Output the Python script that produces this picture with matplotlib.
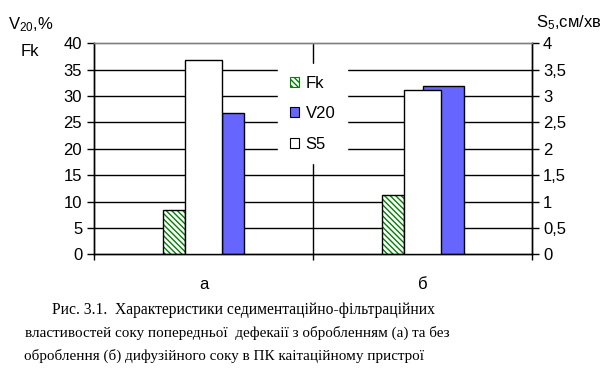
import matplotlib
matplotlib.use("Agg")
import matplotlib.pyplot as plt
from matplotlib.patches import Patch
import numpy as np

# ---- data ----
categories = ["а", "б"]
series_names = ["Fk", "V20", "S5"]
fk_values = [8.4, 11.2]
v20_values = [26.7, 32.0]
s5_values = [3.68, 3.11]
left_ticks = [0, 5, 10, 15, 20, 25, 30, 35, 40]
right_ticks = [0, 0.5, 1, 1.5, 2, 2.5, 3, 3.5, 4]
right_tick_labels = ["0", "0,5", "1", "1,5", "2", "2,5", "3", "3,5", "4"]
caption_lines = [
    "Рис. 3.1.  Характеристики седиментаційно-фільтраційних",
    "властивостей соку попередньої  дефекаії з обробленням (а) та без",
    "оброблення (б) дифузійного соку в ПК каітаційному пристрої",
]

# ---- style / layout ----
plt.rcParams['font.family'] = ['Liberation Sans', 'DejaVu Sans']
plt.rcParams['mathtext.fontset'] = 'custom'
plt.rcParams['mathtext.rm'] = 'Liberation Sans'
plt.rcParams['mathtext.it'] = 'Liberation Sans'
plt.rcParams['hatch.linewidth'] = 1.0

W, H = 609, 373
fig = plt.figure(figsize=(W / 100, H / 100), dpi=100)
fig.patch.set_facecolor('white')

x0, x1, ytop, ybot = 94, 532, 43.3, 254.3
ax = fig.add_axes([x0 / W, (H - ybot) / H, (x1 - x0) / W, (ybot - ytop) / H])
ax2 = ax.twinx()

centers = np.arange(len(categories)) + 0.5
fk_off, fk_w = -0.135, 0.1
s5_off, s5_w = 0.0, 0.17
v20_off = [0.135, 0.096]
v20_w = [0.1, 0.187]

green = '#008000'
blue = '#6666ff'

# Fk bars (hatched green) + black outline
ax.bar(centers + fk_off, fk_values, width=fk_w, facecolor='white',
       edgecolor=green, hatch='\\' * 6, linewidth=0, zorder=3)
ax.bar(centers + fk_off, fk_values, width=fk_w, fill=False,
       edgecolor='black', linewidth=1.0, zorder=4)
# V20 bars
ax.bar(centers + np.array(v20_off), v20_values, width=v20_w, facecolor=blue,
       edgecolor='black', linewidth=1.0, zorder=3)
# S5 bars on secondary axis
ax2.bar(centers + s5_off, s5_values, width=s5_w, facecolor='white',
        edgecolor='black', linewidth=1.0, zorder=3)

ax.set_xlim(0, len(categories))
ax.set_ylim(0, 40)
ax2.set_ylim(0, 4)

# gridlines
for t in left_ticks[1:-1]:
    ax.axhline(t, color='black', linewidth=1.0, zorder=1)
ax.axvline(1, color='black', linewidth=1.0, zorder=1)

for a in (ax, ax2):
    a.spines['top'].set_color('#808080')
    a.spines['left'].set_color('black')
    a.spines['right'].set_color('black')
    a.spines['bottom'].set_color('black')
    for s in a.spines.values():
        s.set_linewidth(1.0)

ax.set_yticks(left_ticks)
ax.set_yticklabels([str(t) for t in left_ticks])
ax.tick_params(axis='y', direction='out', length=5, width=1, pad=3.5,
               labelsize=12, colors='black')
ax2.set_yticks(right_ticks)
ax2.set_yticklabels(right_tick_labels)
ax2.tick_params(axis='y', direction='out', length=5, width=1, pad=3,
                labelsize=12, colors='black')

ax.set_xticks([0, 1, 2])
ax.set_xticklabels(['', '', ''])
ax.tick_params(axis='x', which='major', direction='out', length=4.5, width=1)
ax.set_xticks(centers, minor=True)
ax.set_xticklabels(categories, minor=True)
ax.tick_params(axis='x', which='minor', length=0, pad=16, labelsize=12)

# legend
handles = [
    Patch(facecolor='white', edgecolor=green, hatch='\\' * 6, linewidth=0.8),
    Patch(facecolor=blue, edgecolor='black', linewidth=0.8),
    Patch(facecolor='white', edgecolor='black', linewidth=0.8),
]
leg = ax2.legend(handles, series_names, loc='upper left',
                 bbox_to_anchor=((278 - x0) / (x1 - x0), (ybot - 64) / (ybot - ytop)),
                 fontsize=12, frameon=True, fancybox=False, framealpha=1,
                 edgecolor='white', facecolor='white',
                 handlelength=0.55, handleheight=0.55, handletextpad=0.4,
                 labelspacing=0.93, borderpad=0.7, borderaxespad=0)
leg.set_zorder(10)

# axis titles
fig.text(8 / W, 1 - 25 / H, r'V$_{20}$,%', fontsize=12, ha='left', va='center')
fig.text(30 / W, 1 - 51 / H, 'Fk', fontsize=12, ha='center', va='center')
fig.text(536 / W, 1 - 23 / H, r'S$_{5}$,см/хв', fontsize=12, ha='left', va='center')

# caption, fitted to its measured width
renderer = fig.canvas.get_renderer()
cap_x = [52, 25, 24]
cap_right = [437, 449, 423]
cap_base = [314, 337, 360]
for line, xl, xr, yb in zip(caption_lines, cap_x, cap_right, cap_base):
    t = fig.text(xl / W, 1 - yb / H, line, fontsize=12, ha='left', va='baseline',
                 family=['Liberation Serif', 'DejaVu Serif'])
    w = t.get_window_extent(renderer).width
    t.set_fontsize(12 * (xr - xl) / w)

fig.savefig('out.png', dpi=100, facecolor='white')
